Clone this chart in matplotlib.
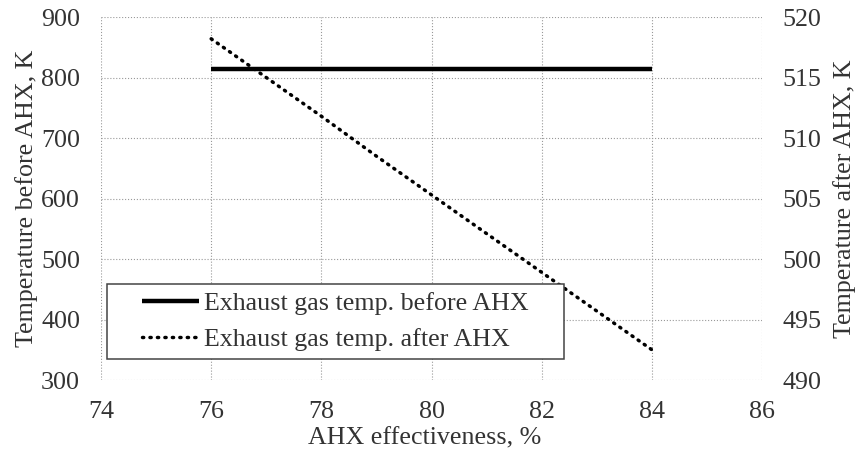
import matplotlib.pyplot as plt
from matplotlib.path import Path

# Data
effectiveness = [76, 77, 78, 79, 80, 81, 82, 83, 84]
temp_before = [813.5, 813.5, 813.5, 813.5, 813.5, 813.5, 813.5, 813.5, 813.5]
temp_after = [518.2, 515.0, 511.8, 508.5, 505.3, 502.1, 498.9, 495.7, 492.5]

plt.rcParams['font.family'] = ['Liberation Serif', 'DejaVu Serif']
text_color = '#333333'
fs = 18.7

fig = plt.figure(figsize=(8.59, 4.55), dpi=100)
ax = fig.add_axes([0.1176, 0.1648, 0.7695, 0.7978])
ax2 = ax.twinx()

l1, = ax.plot(effectiveness, temp_before, color='black', linewidth=3.2, solid_capstyle='butt',
              label='Exhaust gas temp. before AHX')
l2, = ax2.plot(effectiveness, temp_after, color='black', linewidth=2.5, linestyle=(0, (0.35, 1.8)),
               dash_capstyle='round', label='Exhaust gas temp. after AHX')

ax.set_xlim(74, 86)
ax.set_ylim(300, 900)
ax2.set_ylim(490, 520)
ax.set_xticks(range(74, 87, 2))
ax.set_yticks(range(300, 901, 100))
ax2.set_yticks(range(490, 521, 5))

ax.grid(True, color='#999999', linestyle=':', linewidth=0.8)
for a in (ax, ax2):
    for s in a.spines.values():
        s.set_visible(False)
    a.tick_params(length=0, labelsize=fs, labelcolor=text_color)
ax.tick_params(axis='x', pad=15)
ax.tick_params(axis='y', pad=15)
ax2.tick_params(axis='y', pad=15)

ax.set_xlabel('AHX effectiveness, %', fontsize=fs, color=text_color)
ax.xaxis.set_label_coords(0.489, -0.16, transform=ax.transAxes)
ax.xaxis.label.set_va('center')
ax.set_ylabel('Temperature before AHX, K', fontsize=fs, color=text_color, labelpad=2)
ax2.set_ylabel('Temperature after AHX, K', fontsize=fs, color=text_color, labelpad=8)


# legend frame: wide side padding, narrow top/bottom padding
def wide_box(x0, y0, width, height, mutation_size):
    px = 1.05 * mutation_size
    return Path([(x0 - px, y0), (x0 + width + px, y0), (x0 + width + px, y0 + height),
                 (x0 - px, y0 + height), (x0 - px, y0)], closed=True)


leg = ax2.legend(handles=[l1, l2], loc='lower left', bbox_to_anchor=(0.050, 0.058),
                 fontsize=fs, frameon=True, fancybox=False, framealpha=1, handlelength=2.2,
                 handletextpad=0.2, borderpad=0.3, labelspacing=0.5, borderaxespad=0)
leg.get_frame().set_boxstyle(wide_box)
leg.get_frame().set_edgecolor('#444444')
leg.get_frame().set_linewidth(1.1)
for t in leg.get_texts():
    t.set_color(text_color)

fig.savefig('out.png', dpi=100)
